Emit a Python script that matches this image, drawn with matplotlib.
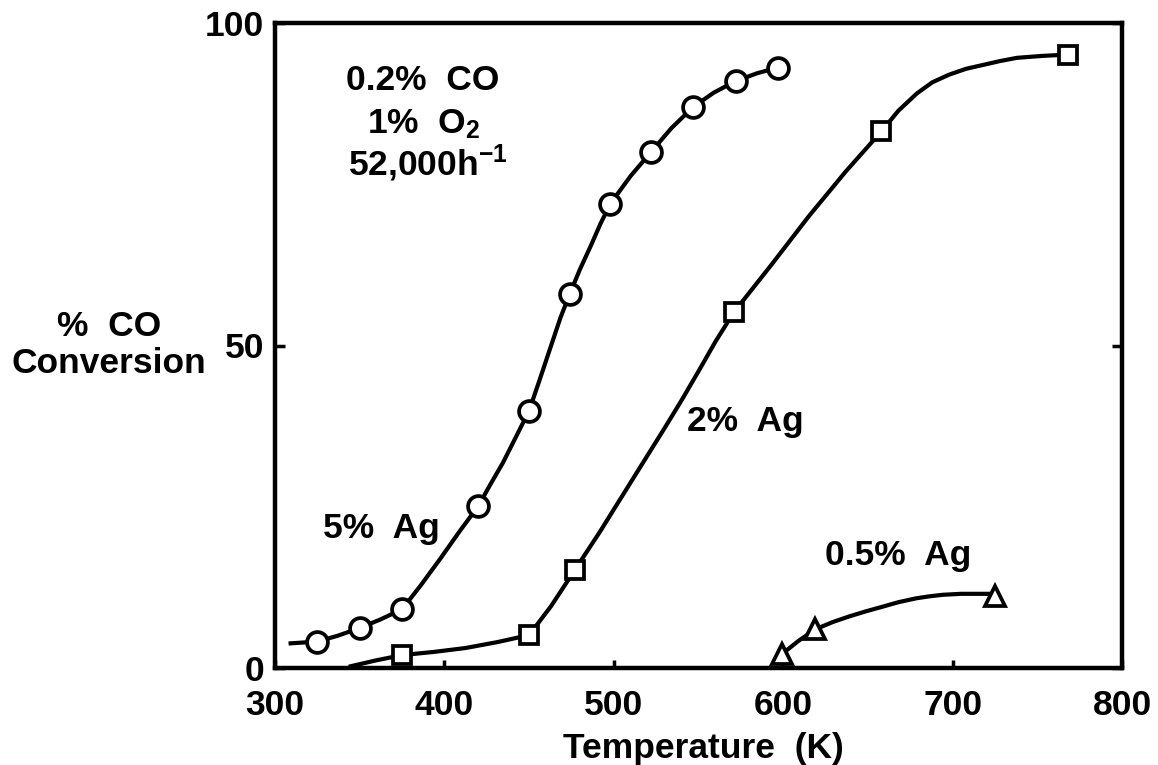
import matplotlib
matplotlib.use("Agg")
import matplotlib.pyplot as plt

plt.rcParams['font.family'] = ['Liberation Sans', 'DejaVu Sans']
plt.rcParams['font.weight'] = 'bold'
plt.rcParams['mathtext.fontset'] = 'custom'
plt.rcParams['mathtext.rm'] = 'Liberation Sans:bold'
plt.rcParams['mathtext.it'] = 'Liberation Sans:bold'
plt.rcParams['mathtext.bf'] = 'Liberation Sans:bold'

# ---- data ----
# measured points
temp_5ag = [325, 350, 375, 420, 450, 474, 498, 522, 547, 572, 597]
conv_5ag = [4.1, 6.2, 9.1, 25.1, 39.9, 58.0, 72.0, 80.0, 87.0, 91.0, 93.1]
temp_2ag = [375, 450, 477, 571, 658, 768]
conv_2ag = [2.0, 5.1, 15.2, 55.2, 83.2, 95.1]
temp_05ag = [599, 619, 725]
conv_05ag = [2.1, 6.0, 11.2]

# hand-drawn guide curves
curve_5ag_t = [308, 325, 337, 350, 362, 375, 386, 398, 409, 420, 427, 434.5, 442, 450,
               456, 463, 468.5, 474, 480, 486.5, 492, 498, 510, 522, 534, 547, 559, 572,
               584.5, 597]
curve_5ag_c = [3.8, 4.1, 5.0, 6.2, 7.5, 9.1, 12.8, 17.1, 21.2, 25.1, 28.4, 31.8, 35.7, 39.9,
               44.5, 50.0, 54.3, 58.0, 61.8, 65.5, 68.8, 72.0, 76.3, 80.0, 83.7, 87.0,
               89.2, 91.0, 92.2, 93.1]
curve_2ag_t = [343.5, 360, 375, 394, 412.5, 431, 450, 463, 477, 484, 492, 501, 510.5,
               520, 530, 540, 550, 560, 571, 593, 615, 637, 658, 668, 679, 688, 698, 708,
               718, 728, 738, 753, 768]
curve_2ag_c = [0.2, 1.2, 2.0, 2.5, 3.1, 4.0, 5.1, 9.6, 15.2, 18.0, 21.2, 25.0, 29.0,
               33.0, 37.2, 41.5, 46.0, 50.6, 55.2, 62.5, 70.0, 77.0, 83.2, 86.4, 89.1,
               90.8, 92.0, 92.9, 93.5, 94.1, 94.6, 94.9, 95.1]
curve_05ag_t = [599, 609, 619, 629, 639, 649, 658.6, 668, 678.4, 686, 694.2, 705, 718, 725]
curve_05ag_c = [2.1, 4.2, 6.0, 7.1, 8.0, 8.8, 9.5, 10.2, 10.8, 11.1, 11.35, 11.5, 11.5, 11.5]

xticks = [300, 400, 500, 600, 700, 800]
yticks = [0, 50, 100]

W, H = 1158, 765
fig = plt.figure(figsize=(W / 100, H / 100), dpi=100)
ax = fig.add_axes([275 / W, 1 - 668 / H, (1122 - 275) / W, (668 - 23) / H])

lw = 3.0
for cx, cy in [(curve_5ag_t, curve_5ag_c), (curve_2ag_t, curve_2ag_c),
               (curve_05ag_t, curve_05ag_c)]:
    ax.plot(cx, cy, color='black', lw=lw, solid_capstyle='butt',
            solid_joinstyle='round', zorder=2)

ax.plot(temp_5ag, conv_5ag, linestyle='none', marker='o', ms=15, mew=2.7,
        mfc='white', mec='black', zorder=3)
ax.plot(temp_2ag, conv_2ag, linestyle='none', marker='s', ms=13, mew=2.7,
        mfc='white', mec='black', zorder=3)
ax.plot(temp_05ag, conv_05ag, linestyle='none', marker='^', ms=14, mew=2.7,
        mfc='white', mec='black', zorder=3)

ax.set_xlim(300, 800)
ax.set_ylim(0, 100)
ax.set_xticks(xticks)
ax.set_yticks(yticks)
ax.set_xticklabels([str(t) for t in xticks])
ax.set_yticklabels([str(t) for t in yticks])
for s in ax.spines.values():
    s.set_linewidth(3.2)
ax.tick_params(axis='x', direction='in', length=6, width=2.5, labelsize=25.5, pad=15)
ax.tick_params(axis='y', direction='in', length=7, width=2.5, labelsize=25.5, pad=8,
               right=True, labelright=False)
for lab in ax.get_xticklabels() + ax.get_yticklabels():
    lab.set_fontweight('bold')

fs = 25.5
ax.text(387, 89.6, '0.2%  CO', ha='center', va='baseline', fontsize=fs, fontweight='bold')
ax.text(388, 82.9, '1%  O$_2$', ha='center', va='baseline', fontsize=fs, fontweight='bold')
ax.text(390, 76.4, '52,000h$^{-1}$', ha='center', va='baseline', fontsize=fs, fontweight='bold')

ax.text(363, 20.1, '5%  Ag', ha='center', va='baseline', fontsize=fs, fontweight='bold')
ax.text(577.5, 36.7, '2%  Ag', ha='center', va='baseline', fontsize=fs, fontweight='bold')
ax.text(667.6, 16.0, '0.5%  Ag', ha='center', va='baseline', fontsize=fs, fontweight='bold')

fig.text(109 / W, 1 - 345 / H, '%  CO\nConversion', ha='center', va='center',
         fontsize=fs, fontweight='bold', linespacing=1.15)
fig.text(703 / W, 1 - 758 / H, 'Temperature  (K)', ha='center', va='baseline',
         fontsize=fs, fontweight='bold')

fig.savefig('out.png', dpi=100, facecolor='white')
